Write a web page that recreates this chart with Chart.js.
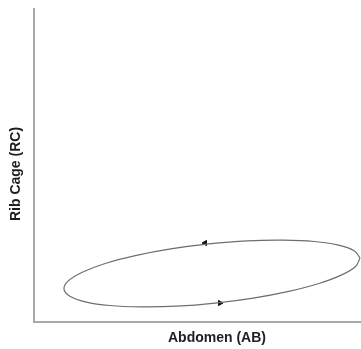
<!DOCTYPE html>
<html>
<head>
<meta charset="utf-8">
<script src="https://cdn.jsdelivr.net/npm/chart.js@4"></script>
<style>
  html, body { margin: 0; padding: 0; background: #fff; }
  #wrap { width: 361px; height: 349px; }
</style>
</head>
<body>
<div id="wrap"><canvas id="loopChart"></canvas></div>
<script>
// ================= DATA =================
// loop (AB across, RC up), walked counter-clockwise
const abValues = [326.0, 320.1, 304.6, 280.4, 249.3, 213.3, 174.9, 136.7, 101.3, 71.2, 48.3, 34.2,
                  30.0, 35.9, 51.4, 75.6, 106.7, 142.7, 181.1, 219.3, 254.7, 284.9, 307.7, 321.8, 326.0];
const rcValues = [64.1, 71.2, 76.8, 80.5, 81.9, 81.2, 78.1, 73.1, 66.4, 58.5, 49.8, 41.1,
                  32.9, 25.8, 20.2, 16.5, 15.1, 15.8, 18.9, 23.9, 30.6, 38.5, 47.1, 55.8, 64.1];

// direction arrows on the loop
const arrowAB = [171, 186];
const arrowRC = [79, 19];
const arrowTurn = [-90, 90];

const axisLabels = ["Abdomen (AB)", "Rib Cage (RC)"];

const loopPoints = abValues.map((x, i) => ({ x: x, y: rcValues[i] }));
const arrowPoints = arrowAB.map((x, i) => ({ x: x, y: arrowRC[i] }));

// axis names sit a bit off the axis centres in the original, so draw them here
const axisNames = {
    id: 'axisNames',
    afterDraw(chart) {
        const { ctx, chartArea } = chart;
        ctx.save();
        ctx.fillStyle = "#1e1e1e";
        ctx.font = "bold 14px 'Liberation Sans', Arial, sans-serif";
        ctx.textAlign = "center";
        ctx.textBaseline = "middle";
        ctx.fillText(axisLabels[0], chartArea.left + 183, chartArea.bottom + 16);
        ctx.translate(chartArea.left - 18, chartArea.top + 165);
        ctx.rotate(-Math.PI / 2);
        ctx.fillText(axisLabels[1], 0, 0);
        ctx.restore();
    }
};

// ================= CHART =================
new Chart(document.getElementById("loopChart"), {
    type: 'scatter',
    data: {
        datasets: [{
            data: loopPoints,
            showLine: true,
            borderColor: "#6e6e6e",
            borderWidth: 1.2,
            pointRadius: 0,
            tension: 0.4,
            fill: false
        }, {
            data: arrowPoints,
            showLine: false,
            pointStyle: 'triangle',
            pointRadius: 3,
            rotation: arrowTurn,
            backgroundColor: "#111",
            borderColor: "#111",
            borderWidth: 1
        }]
    },
    options: {
        responsive: true,
        maintainAspectRatio: false,
        animation: false,
        layout: { autoPadding: false, padding: { left: 34, top: 9, right: 0, bottom: 27 } },
        plugins: {
            legend: { display: false },
            tooltip: { enabled: false }
        },
        scales: {
            x: {
                type: 'linear',
                min: 0,
                max: 327,
                grid: { display: false, drawTicks: false },
                border: { display: true, color: "#a8a8a8", width: 2 },
                ticks: { display: false }
            },
            y: {
                type: 'linear',
                min: 0,
                max: 313,
                grid: { display: false, drawTicks: false },
                border: { display: true, color: "#a8a8a8", width: 2 },
                ticks: { display: false }
            }
        }
    },
    plugins: [axisNames]
});
</script>
</body>
</html>
